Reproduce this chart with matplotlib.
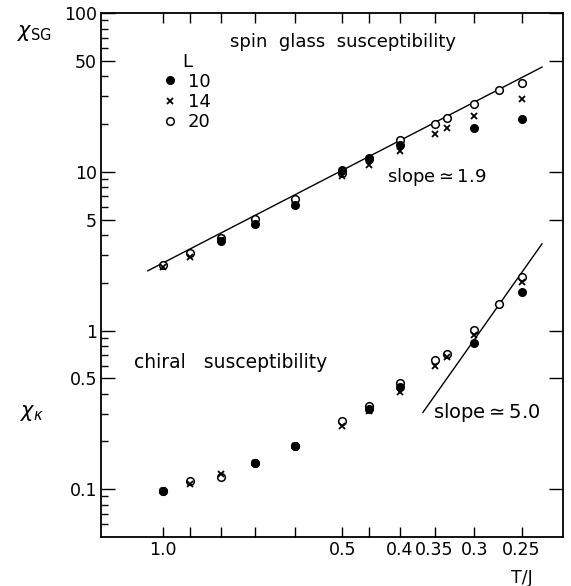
import matplotlib
matplotlib.use('Agg')
import matplotlib.pyplot as plt
from matplotlib.ticker import FixedLocator, FixedFormatter, LogLocator, NullFormatter

# spin glass susceptibility, by lattice size L
T_sg_20 = [1.0, 0.9, 0.8, 0.7, 0.6, 0.5, 0.45, 0.4, 0.35, 0.333, 0.3, 0.273, 0.25]
chi_sg_20 = [2.6, 3.1, 3.85, 5.06, 6.76, 9.9, 12.0, 15.9, 20.0, 21.9, 26.8, 32.8, 36.3]
T_sg_14 = [1.0, 0.9, 0.8, 0.7, 0.6, 0.5, 0.45, 0.4, 0.35, 0.333, 0.3, 0.25]
chi_sg_14 = [2.5, 2.92, 3.7, 4.7, 6.2, 9.4, 11.1, 13.6, 17.3, 18.9, 22.5, 28.8]
T_sg_10 = [0.8, 0.7, 0.6, 0.5, 0.45, 0.4, 0.3, 0.25]
chi_sg_10 = [3.68, 4.7, 6.2, 10.3, 12.2, 14.8, 18.9, 21.5]

# chiral susceptibility
T_ch_20 = [1.0, 0.9, 0.8, 0.7, 0.6, 0.5, 0.45, 0.4, 0.35, 0.333, 0.3, 0.273, 0.25]
chi_ch_20 = [0.098, 0.112, 0.120, 0.147, 0.188, 0.268, 0.333, 0.465, 0.65, 0.716, 1.01, 1.46, 2.19]
T_ch_14 = [1.0, 0.9, 0.8, 0.7, 0.6, 0.5, 0.45, 0.4, 0.35, 0.333, 0.3, 0.25]
chi_ch_14 = [0.097, 0.108, 0.125, 0.146, 0.186, 0.252, 0.31, 0.41, 0.6, 0.68, 0.94, 2.03]
T_ch_10 = [1.0, 0.7, 0.6, 0.45, 0.4, 0.3, 0.25]
chi_ch_10 = [0.097, 0.146, 0.186, 0.32, 0.44, 0.84, 1.74]

# power-law guide lines (end points)
sg_fit_T = [1.06, 0.231]
sg_fit_chi = [2.38, 45.7]
ch_fit_T = [0.366, 0.231]
ch_fit_chi = [0.305, 3.52]

x_ticks = [1.0, 0.5, 0.4, 0.35, 0.3, 0.25]
x_ticklabels = ['1.0', '0.5', '0.4', '0.35', '0.3', '0.25']
x_minor = [0.9, 0.8, 0.7, 0.6, 0.45]
y_ticks = [0.1, 0.5, 1, 5, 10, 50, 100]
y_ticklabels = ['0.1', '0.5', '1', '5', '10', '50', '100']

fig = plt.figure(figsize=(5.71, 5.86), dpi=100)
ax = fig.add_axes([0.177, 0.0836, 0.809, 0.894])

ax.plot(sg_fit_T, sg_fit_chi, color='black', lw=1.0, zorder=1)
ax.plot(ch_fit_T, ch_fit_chi, color='black', lw=1.0, zorder=1)

ms = 5.5
kw20 = dict(ls='none', marker='o', ms=ms, mfc='white', mec='black', mew=1.1, zorder=2)
kw14 = dict(ls='none', marker='x', ms=ms - 1, color='black', mew=1.3, zorder=3)
kw10 = dict(ls='none', marker='o', ms=ms, mfc='black', mec='black', zorder=4)

h20, = ax.plot(T_sg_20, chi_sg_20, label='20', **kw20)
h14, = ax.plot(T_sg_14, chi_sg_14, label='14', **kw14)
h10, = ax.plot(T_sg_10, chi_sg_10, label='10', **kw10)
ax.plot(T_ch_20, chi_ch_20, **kw20)
ax.plot(T_ch_14, chi_ch_14, **kw14)
ax.plot(T_ch_10, chi_ch_10, **kw10)

ax.set_xscale('log')
ax.set_yscale('log')
ax.set_xlim(1.27, 0.213)
ax.set_ylim(0.05, 100)

ax.xaxis.set_major_locator(FixedLocator(x_ticks))
ax.xaxis.set_major_formatter(FixedFormatter(x_ticklabels))
ax.xaxis.set_minor_locator(FixedLocator(x_minor))
ax.xaxis.set_minor_formatter(NullFormatter())
ax.yaxis.set_major_locator(FixedLocator(y_ticks))
ax.yaxis.set_major_formatter(FixedFormatter(y_ticklabels))
ax.yaxis.set_minor_locator(LogLocator(base=10, subs=[2, 3, 4, 6, 7, 8, 9]))
ax.yaxis.set_minor_formatter(NullFormatter())

ax.tick_params(axis='both', which='both', direction='in', labelsize=12.5,
               top=True, width=1.0)
ax.tick_params(axis='x', which='both', length=7, pad=3)
ax.tick_params(axis='y', which='major', length=10, right=True, pad=3)
ax.tick_params(axis='y', which='minor', length=5, right=False)
for s in ax.spines.values():
    s.set_linewidth(1.3)

ax.legend(handles=[h10, h14, h20], title='L', loc='upper left',
          bbox_to_anchor=(0.115, 0.942), frameon=False, fontsize=13,
          title_fontsize=13, handlelength=0.8, handletextpad=0.55,
          labelspacing=0.12, borderpad=0)

ax.text(0.524, 0.945, 'spin  glass  susceptibility', transform=ax.transAxes,
        ha='center', va='center', fontsize=13)
ax.text(0.727, 0.687, r'slope$\simeq$1.9', transform=ax.transAxes,
        ha='center', va='center', fontsize=13)
ax.text(0.281, 0.334, 'chiral   susceptibility', transform=ax.transAxes,
        ha='center', va='center', fontsize=13.5)
ax.text(0.835, 0.237, r'slope$\simeq$5.0', transform=ax.transAxes,
        ha='center', va='center', fontsize=14)

fig.text(0.03, 0.944, r'$\chi_{\rm SG}$', ha='left', va='center', fontsize=15)
fig.text(0.035, 0.295, r'$\chi_{\kappa}$', ha='left', va='center', fontsize=15)
fig.text(0.914, 0.0137, 'T/J', ha='center', va='center', fontsize=12.5)

fig.savefig('out.png', dpi=100, facecolor='white')
